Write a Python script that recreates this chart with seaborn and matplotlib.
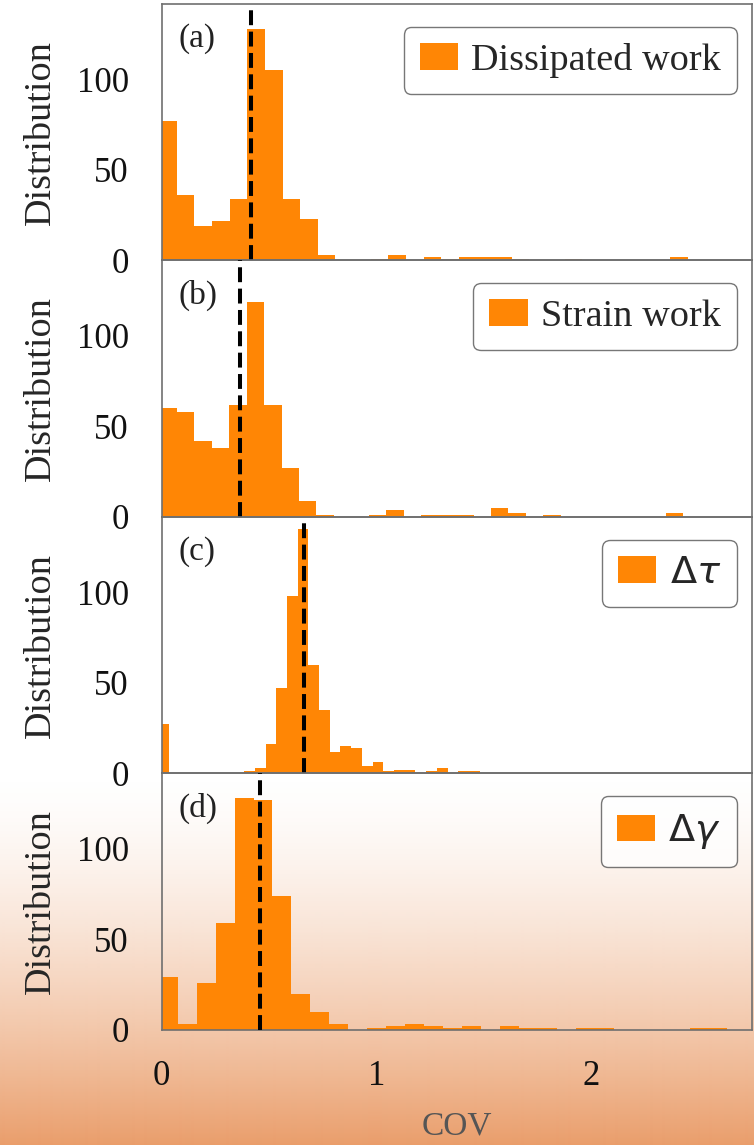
import numpy as np
import pandas as pd
import matplotlib
matplotlib.use("Agg")
import matplotlib.pyplot as plt
from matplotlib.patches import Patch
import seaborn as sns

# ---------------- data ----------------
panel_tags = ["(a)", "(b)", "(c)", "(d)"]
legend_labels = ["Dissipated work", "Strain work", r"$\Delta\tau$", r"$\Delta\gamma$"]
counts_a = [77, 36, 19, 22, 34, 128, 105, 34, 23, 3, 0, 0, 1, 3, 0, 2, 1, 2, 2, 2, 1, 0, 0, 1, 0, 0, 0, 0, 0, 2]
counts_b = [60, 58, 42, 38, 62, 119, 62, 27, 9, 1, 0, 0, 1, 4, 0, 1, 1, 1, 0, 5, 2, 0, 1, 0, 0, 0, 0, 0, 0, 2]
counts_c = [27, 0, 0, 0, 0, 0, 0, 0, 1, 3, 16, 47, 98, 135, 60, 35, 12, 15, 14, 4, 6, 1, 2, 2, 0, 1, 3, 0, 1, 1]
counts_d = [29, 3, 26, 59, 128, 127, 74, 20, 10, 3, 0, 1, 2, 3, 2, 1, 2, 0, 2, 1, 1, 0, 1, 1, 0, 0, 0, 0, 1, 1]
bin_start = [-0.012, -0.011, -0.015, -0.014]
bin_width = [0.082, 0.0812, 0.0498, 0.0882]
mean_cov = [0.415, 0.365, 0.662, 0.457]
x_ticks = [0, 1, 2]
y_ticks = [0, 50, 100]
x_label = "COV"
y_label = "Distribution"

all_counts = [counts_a, counts_b, counts_c, counts_d]

# ---------------- style ----------------
sns.set_style("white")
plt.rcParams["font.family"] = ["Liberation Serif", "DejaVu Serif"]
plt.rcParams["mathtext.fontset"] = "dejavusans"

BAR = "#ff8605"
SPINE = "#6f6f6f"

fig, axes = plt.subplots(4, 1, figsize=(7.54, 11.45), dpi=100, sharex=True, sharey=True)
fig.patch.set_facecolor("white")
fig.subplots_adjust(left=0.2145, right=0.9973, top=0.9965, bottom=0.1007, hspace=0)

# background gradient (white -> orange toward the bottom)
H = 1145
rows = np.arange(H)
t = np.clip((rows - 770) / 375.0, 0, 1)
alpha = 0.78 * t ** 1.5
img = np.zeros((H, 1, 4))
img[:, 0, 0] = 228 / 255
img[:, 0, 1] = 130 / 255
img[:, 0, 2] = 65 / 255
img[:, 0, 3] = alpha
ax_bg = fig.add_axes([0, 0, 1, 1], zorder=-10)
ax_bg.imshow(img, aspect="auto", extent=[0, 1, 0, 1], interpolation="bilinear")
ax_bg.axis("off")

for i, ax in enumerate(axes):
    counts = np.array(all_counts[i], dtype=float)
    edges = bin_start[i] + bin_width[i] * np.arange(len(counts) + 1)
    centers = (edges[:-1] + edges[1:]) / 2
    df = pd.DataFrame({"cov": centers, "n": counts})
    sns.histplot(data=df, x="cov", weights="n", bins=list(edges), ax=ax, color=BAR,
                 alpha=1.0, linewidth=0, edgecolor="none")
    ax.axvline(mean_cov[i], color="black", ls="--", lw=2.9, zorder=5)
    ax.set_facecolor("none")
    ax.set_ylabel(y_label, fontsize=27.5)
    ax.yaxis.set_label_coords(-0.176, 0.5)
    ax.set_xlabel("")
    ax.text(0.028, 0.925, panel_tags[i], transform=ax.transAxes, ha="left", va="top",
            fontsize=24, color="#222222")
    ax.legend(handles=[Patch(facecolor=BAR, edgecolor="none", label=legend_labels[i])],
              loc="upper right", bbox_to_anchor=(1 - 15 / 590.3, 1 - 23 / 256.3),
              borderaxespad=0, fontsize=27.5, handlelength=1.0, handleheight=0.7,
              handletextpad=0.35, borderpad=0.42,
              fancybox=True, framealpha=0.8, edgecolor="#555555")
    for sp in ax.spines.values():
        sp.set_color(SPINE)
        sp.set_linewidth(1.2)
    ax.set_yticks(y_ticks)
    ax.tick_params(axis="y", labelsize=25, length=10.8, width=1.1, color=SPINE, pad=13,
                   labelcolor="#111111")
    if i < 3:
        ax.tick_params(axis="x", bottom=False, labelbottom=False)

ax = axes[-1]
ax.set_xlim(0, 2.746)
ax.set_ylim(0, 141.75)
ax.set_xticks(x_ticks)
ax.tick_params(axis="x", labelsize=25, length=10.8, width=1.1, color=SPINE, pad=11,
               labelcolor="#111111")
ax.set_xlabel(x_label, fontsize=24, color="#555555", labelpad=13)

fig.savefig("out.png", dpi=100)
